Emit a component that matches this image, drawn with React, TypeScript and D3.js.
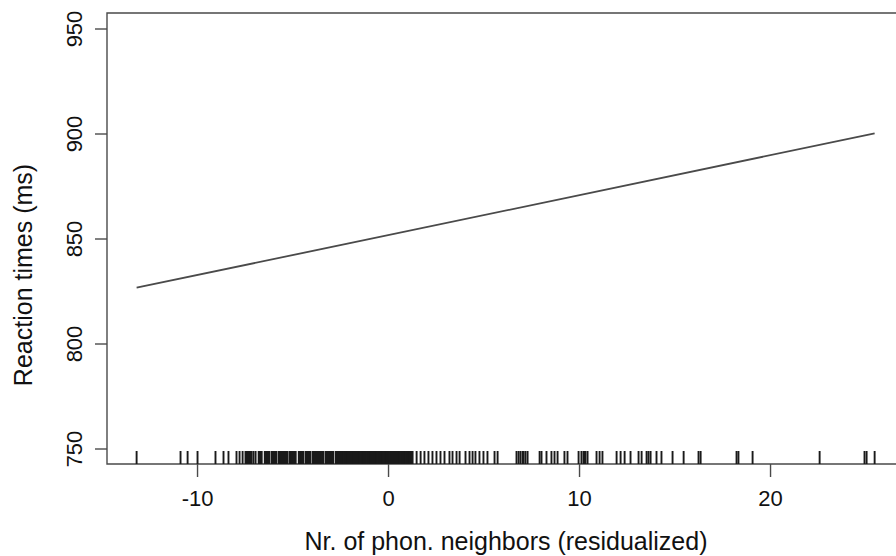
import React from "react";
import * as d3 from "d3";

const W = 896;
const H = 556;

// Partial effect line (predictor value, predicted RT)
const effectX = [-13.19, 25.45];
const effectY = [826.8, 900.3];

const xTicks = [-10, 0, 10, 20];
const yTicks = [750, 800, 850, 900, 950];

// Rug: observed predictor values (residualized nr. of phon. neighbors)
const rugSparseLeft = [-13.19, -10.89, -10.52, -10.0, -9.06, -8.64, -8.38, -7.96, -7.8, -7.64, -7.07, -6.96];

const rugDense = [
  -7.49, -7.45, -7.41, -7.37, -7.33, -7.29, -7.25, -7.21, -7.17,
  -6.8, -6.76, -6.72, -6.68, -6.64,
  -6.48, -6.44, -6.4, -6.36, -6.32, -6.28, -6.24,
  -6.12, -6.08, -6.04, -6.0, -5.96, -5.92, -5.88,
  -5.76, -5.72, -5.68, -5.64, -5.6, -5.56, -5.52, -5.48, -5.44, -5.4, -5.36, -5.32, -5.29,
  -5.18, -5.14, -5.1, -5.06, -5.02, -4.98, -4.94, -4.9, -4.86,
  -4.7, -4.66, -4.62, -4.58, -4.54, -4.5, -4.46,
  -4.34, -4.3, -4.26, -4.22, -4.18, -4.14, -4.1,
  -3.98, -3.94, -3.9, -3.86, -3.82, -3.78, -3.74, -3.7, -3.66, -3.62, -3.58, -3.54, -3.5, -3.46, -3.42,
  -3.3, -3.26, -3.22, -3.18, -3.14, -3.1, -3.06, -3.02, -2.98, -2.94, -2.9,
  -2.77, -2.73, -2.7, -2.65, -2.61, -2.58, -2.55, -2.5, -2.46, -2.42, -2.38, -2.34, -2.3, -2.26,
  -2.21, -2.17, -2.14, -2.1, -2.05, -2.01, -1.98, -1.93, -1.89, -1.85, -1.82, -1.77, -1.73, -1.69,
  -1.66, -1.61, -1.57, -1.53, -1.5, -1.45, -1.41, -1.37, -1.33, -1.29, -1.26, -1.21, -1.17, -1.13,
  -1.1, -1.05, -1.01, -0.97, -0.93, -0.89, -0.86, -0.81, -0.77, -0.73, -0.7, -0.65, -0.61, -0.57,
  -0.53, -0.49, -0.46, -0.41, -0.37, -0.33, -0.3, -0.25, -0.21, -0.17, -0.13, -0.09, -0.06, -0.02,
  0.03, 0.07, 0.1, 0.15, 0.19, 0.23, 0.27, 0.31, 0.34, 0.39, 0.43, 0.47, 0.5, 0.55, 0.59, 0.63,
  0.67, 0.71, 0.74, 0.79, 0.83, 0.87, 0.9, 0.95, 0.99, 1.03, 1.07, 1.11, 1.15, 1.19,
];

const rugSparseRight = [
  1.26, 1.47, 1.68, 1.88, 2.09, 2.3, 2.51, 2.72, 2.93, 3.19, 3.35,
  3.56, 3.72, 4.03, 4.24, 4.4, 4.55, 4.76, 4.97, 5.18, 5.55, 5.71,
  6.7, 6.81, 6.91, 7.02, 7.07, 7.17, 7.28, 7.91, 8.01, 8.27, 8.53,
  8.69, 8.85, 9.21, 9.37, 9.95, 10.1, 10.21, 10.26, 10.31, 10.42,
  10.89, 11.05, 11.2, 11.94, 12.15, 12.36, 12.67, 13.09, 13.25,
  13.51, 13.61, 13.72, 14.03, 14.29, 14.87, 15.45, 16.23, 16.34,
  18.22, 18.32, 19.06, 22.57, 24.92, 25.03, 25.45,
];

const xTitle = "Nr. of phon. neighbors (residualized)";
const yTitle = "Reaction times (ms)";

export default function App() {
  const plotLeft = 107;
  const plotRight = 905;
  const plotTop = 13;
  const plotBottom = 464;

  const x = d3.scaleLinear().domain([-14.74, 27.04]).range([plotLeft, plotRight]);
  const y = d3.scaleLinear().domain([742.86, 957.62]).range([plotBottom, plotTop]);

  const line = d3
    .line<number>()
    .x((_, i) => x(effectX[i]))
    .y((d) => y(d));

  const rugValues = [...rugSparseLeft, ...rugDense, ...rugSparseRight];

  const axisColor = "#4a4a4a";
  const textColor = "#111";
  const font = "'Liberation Sans', Arial, sans-serif";
  const rugLen = 13;

  return (
    <svg
      width={W}
      height={H}
      style={{ position: "absolute", left: 0, top: 0, background: "#fff" }}
      fontFamily={font}
    >
      <rect x={0} y={0} width={W} height={H} fill="#fff" />
      {/* box: top, left, bottom */}
      <path
        d={`M${plotRight},${plotTop}H${plotLeft}V${plotBottom}H${plotRight}`}
        fill="none"
        stroke={axisColor}
        strokeWidth={1.4}
      />
      {/* y ticks */}
      {yTicks.map((t) => (
        <g key={`y${t}`}>
          <line x1={plotLeft - 12} x2={plotLeft} y1={y(t)} y2={y(t)} stroke={axisColor} strokeWidth={1.4} />
          <text
            transform={`translate(${82},${y(t)}) rotate(-90)`}
            textAnchor="middle"
            fontSize={22}
            fill={textColor}
          >
            {t}
          </text>
        </g>
      ))}
      {/* x ticks */}
      {xTicks.map((t) => (
        <g key={`x${t}`}>
          <line x1={x(t)} x2={x(t)} y1={plotBottom} y2={plotBottom + 13} stroke={axisColor} strokeWidth={1.4} />
          <text x={x(t)} y={506} textAnchor="middle" fontSize={22} fill={textColor}>
            {t < 0 ? `-${Math.abs(t)}` : t}
          </text>
        </g>
      ))}
      {/* rug */}
      {rugValues.map((v, i) => (
        <line
          key={`r${i}`}
          x1={x(v)}
          x2={x(v)}
          y1={plotBottom}
          y2={plotBottom - rugLen}
          stroke="#1a1a1a"
          strokeWidth={1.9}
        />
      ))}
      {/* effect line */}
      <path d={line(effectY) || ""} fill="none" stroke="#4a4a4a" strokeWidth={1.8} />
      {/* titles */}
      <text x={(plotLeft + plotRight) / 2} y={550} textAnchor="middle" fontSize={25} fill={textColor}>
        {xTitle}
      </text>
      <text
        transform={`translate(${32},${275}) rotate(-90)`}
        textAnchor="middle"
        fontSize={25}
        fill={textColor}
      >
        {yTitle}
      </text>
    </svg>
  );
}
